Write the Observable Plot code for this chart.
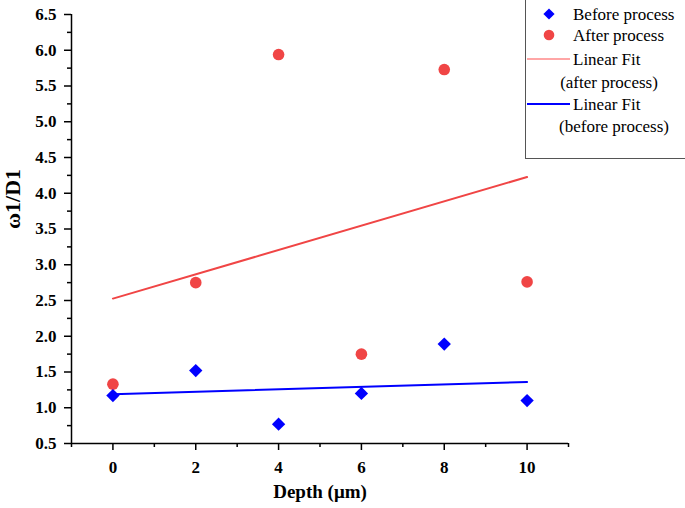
<!DOCTYPE html>
<html><head><meta charset="utf-8">
<script src="https://cdn.jsdelivr.net/npm/d3@7"></script>
<script src="https://cdn.jsdelivr.net/npm/@observablehq/plot@0.6"></script>
<style>
body{margin:0;background:#fff;}
#wrap{position:relative;width:685px;height:508px;overflow:hidden;}
#legend{position:absolute;left:525px;top:-1px;}
</style></head><body><div id="wrap"></div>
<script>
// data
const depth = [0, 2, 4, 6, 8, 10];
const beforeProcess = [1.17, 1.52, 0.77, 1.20, 1.89, 1.10];
const afterProcess = [1.33, 2.75, 5.94, 1.75, 5.73, 2.76];
const yMajorTicks = [0.5, 1.0, 1.5, 2.0, 2.5, 3.0, 3.5, 4.0, 4.5, 5.0, 5.5, 6.0, 6.5];
const yMinorTicks = [0.75, 1.25, 1.75, 2.25, 2.75, 3.25, 3.75, 4.25, 4.75, 5.25, 5.75, 6.25];
const xMajorTicks = [0, 2, 4, 6, 8, 10];
const xMinorTicks = [-1, 1, 3, 5, 7, 9, 11];
const xTitle = "Depth (μm)";
const yTitle = "ω1/D1";
const legendLabels = ["Before process", "After process", "Linear Fit", "(after process)", "Linear Fit", "(before process)"];

const RED = "#f04545", BLUE = "#0000ff";
const rows = depth.map((d, i) => ({depth: d, before: beforeProcess[i], after: afterProcess[i]}));
const font = "Liberation Serif, Times New Roman, serif";

const chart = Plot.plot({
  width: 685, height: 508,
  marginLeft: 71, marginRight: 117, marginTop: 14, marginBottom: 65,
  style: {fontFamily: font, fontWeight: "bold", fontSize: "17px", background: "#fff", color: "#000"},
  x: {domain: [-1, 11]},
  y: {domain: [0.5, 6.5]},
  marks: [
    Plot.axisY({ticks: yMinorTicks, tickSize: 4, tickFormat: () => "", label: null, strokeWidth: 1.5}),
    Plot.axisY({ticks: yMajorTicks, tickSize: 7, tickPadding: 8, tickFormat: d3.format(".1f"),
      fontSize: 17, fontWeight: "bold", strokeWidth: 1.5, label: null}),
    Plot.axisX({ticks: xMinorTicks, tickSize: 4, tickFormat: () => "", label: null, strokeWidth: 1.5}),
    Plot.axisX({ticks: xMajorTicks, tickSize: 7, tickPadding: 10, tickFormat: d3.format("d"),
      fontSize: 17, fontWeight: "bold", strokeWidth: 1.5, label: null}),
    Plot.text([xTitle], {frameAnchor: "bottom", dy: 54, text: d => d, fontSize: 19, fontWeight: "bold"}),
    Plot.text([yTitle], {frameAnchor: "left", textAnchor: "middle", dx: -59, dy: -30, rotate: -90,
      text: d => d, fontSize: 22, fontWeight: "bold"}),
    Plot.ruleX([-1], {stroke: "#000", strokeWidth: 1.5}),
    Plot.ruleY([0.5], {stroke: "#000", strokeWidth: 1.5}),
    Plot.linearRegressionY(rows, {x: "depth", y: "after", stroke: RED, strokeWidth: 2, ci: 0}),
    Plot.linearRegressionY(rows, {x: "depth", y: "before", stroke: BLUE, strokeWidth: 2, ci: 0}),
    Plot.dot(rows, {x: "depth", y: "after", r: 5.8, fill: RED, stroke: "none", symbol: "circle"}),
    Plot.dot(rows, {x: "depth", y: "before", r: 6, fill: BLUE, stroke: "none", symbol: "diamond2"})
  ]
});
document.getElementById("wrap").appendChild(chart);

// legend overlay
const lg = d3.select("#wrap").append("svg").attr("id", "legend")
  .attr("width", 170).attr("height", 162)
  .style("font-family", font).style("font-size", "17px");
lg.append("rect").attr("x", 0.5).attr("y", 0.5).attr("width", 190).attr("height", 159)
  .attr("fill", "#fff").attr("stroke", "#555").attr("stroke-width", 1);
lg.append("path").attr("d", d3.symbol(d3.symbolDiamond2, 80)()).attr("transform", "translate(24,15)").attr("fill", BLUE);
lg.append("circle").attr("cx", 24).attr("cy", 36).attr("r", 5.3).attr("fill", RED);
lg.append("line").attr("x1", 2).attr("x2", 45).attr("y1", 60).attr("y2", 60).attr("stroke", "#f88").attr("stroke-width", 1.5);
lg.append("line").attr("x1", 2).attr("x2", 45).attr("y1", 105).attr("y2", 105).attr("stroke", BLUE).attr("stroke-width", 2);
const lpos = [[48, 15, "start"], [48, 36, "start"], [48, 60, "start"], [84, 83, "middle"], [48, 105, "start"], [89, 127, "middle"]];
legendLabels.forEach((t, i) => {
  lg.append("text").attr("x", lpos[i][0]).attr("y", lpos[i][1]).attr("dy", "0.35em")
    .attr("text-anchor", lpos[i][2]).text(t);
});
</script></body></html>
